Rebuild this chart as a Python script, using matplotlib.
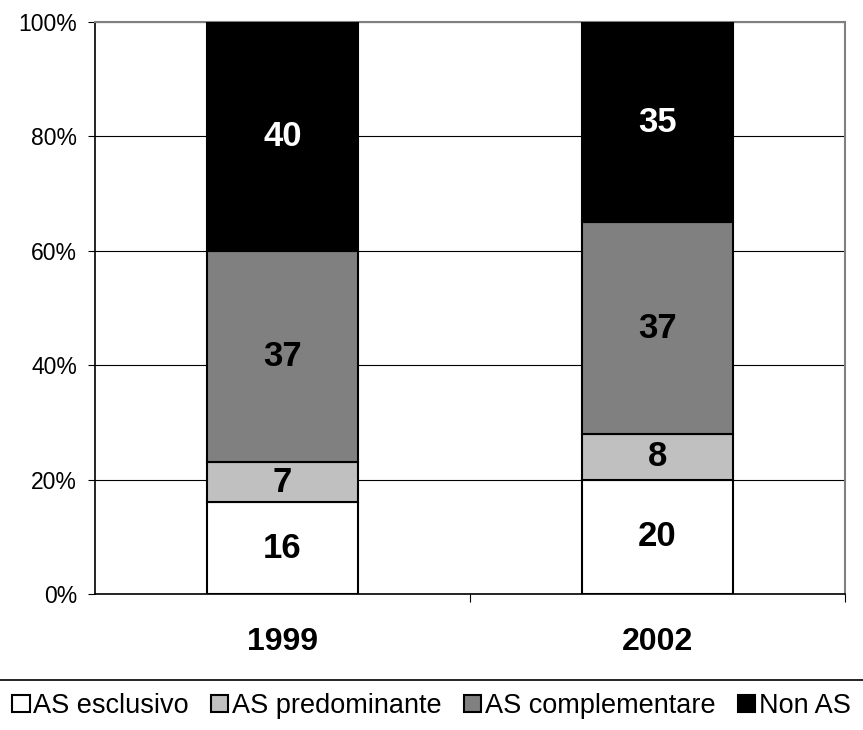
import numpy as np
import matplotlib
matplotlib.use("Agg")
import matplotlib.pyplot as plt
from matplotlib.lines import Line2D

plt.rcParams["font.family"] = ["Liberation Sans", "DejaVu Sans"]

years = ["1999", "2002"]
series = ["AS esclusivo", "AS predominante", "AS complementare", "Non AS"]
esclusivo = [16, 20]
predominante = [7, 8]
complementare = [37, 37]
non_as = [40, 35]
values = [esclusivo, predominante, complementare, non_as]
colors = ["#FFFFFF", "#C0C0C0", "#808080", "#000000"]
label_colors = ["black", "black", "black", "white"]

fig = plt.figure(figsize=(8.63, 7.30), dpi=100)
ax = fig.add_axes([95 / 863, 1 - 594 / 730, 750 / 863, 572 / 730])

x = np.arange(len(years))
bottom = np.zeros(len(years))
for vals, col, lc, name in zip(values, colors, label_colors, series):
    vals = np.array(vals, dtype=float)
    ax.bar(x, vals, bottom=bottom, width=0.405, color=col, edgecolor="black",
           lw=1.5, label=name, zorder=3)
    for xi, v, b in zip(x, vals, bottom):
        ax.text(xi, b + v / 2, f"{v:.0f}", ha="center", va="center",
                fontsize=25, fontweight="bold", color=lc, zorder=4)
    bottom += vals

ax.set_xlim(-0.5, 1.5)
ax.set_ylim(0, 100)
ax.set_yticks(np.arange(0, 101, 20))
ax.set_yticklabels([f"{v}%" for v in range(0, 101, 20)], fontsize=16.5)
ax.yaxis.grid(True, color="black", lw=0.8, zorder=0)
ax.set_xticks([0.5, 1.5], minor=False)
ax.set_xticklabels([])
ax.set_xticks(x, minor=True)
ax.set_xticklabels(years, minor=True, fontsize=23, fontweight="bold")
ax.tick_params(axis="x", which="minor", length=0, pad=24)
ax.tick_params(axis="x", which="major", length=6, color="black")
ax.tick_params(axis="y", length=5, color="black", pad=8)

for side in ["top", "right"]:
    ax.spines[side].set_color("#808080")
    ax.spines[side].set_linewidth(1.5)
ax.spines["left"].set_linewidth(1.2)
ax.spines["bottom"].set_linewidth(1.2)

# line across the figure above the legend
fig.add_artist(Line2D([0, 1], [1 - 680 / 730] * 2, color="black", lw=1.2,
                      transform=fig.transFigure))

handles, labels = ax.get_legend_handles_labels()
leg = fig.legend(handles, labels, loc="center", bbox_to_anchor=(0.5, 1 - 706 / 730),
                 ncol=4, frameon=False, fontsize=19.5, handlelength=0.63,
                 handleheight=0.63, handletextpad=0.12, columnspacing=0.85,
                 borderpad=0, borderaxespad=0)

fig.savefig("out.png", dpi=100)
